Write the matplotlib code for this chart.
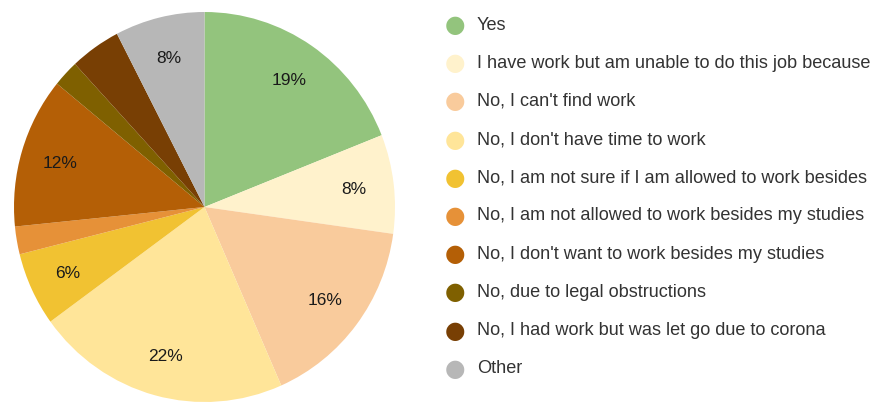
import matplotlib.pyplot as plt

# Survey answers, share of respondents in percent
labels = [
    "Yes",
    "I have work but am unable to do this job because",
    "No, I can't find work",
    "No, I don't have time to work",
    "No, I am not sure if I am allowed to work besides",
    "No, I am not allowed to work besides my studies",
    "No, I don't want to work besides my studies",
    "No, due to legal obstructions",
    "No, I had work but was let go due to corona",
    "Other",
]
shares = [19.0, 8.2, 16.2, 21.6, 6.1, 2.3, 12.5, 2.2, 4.3, 7.6]
colors = ["#93c47d", "#fff2cc", "#f9cb9c", "#ffe599", "#f1c232",
          "#e69138", "#b45f06", "#7f6000", "#783f04", "#b7b7b7"]

plt.rcParams['font.family'] = ['Liberation Sans', 'DejaVu Sans']

W, H = 875, 406
fig = plt.figure(figsize=(W / 100, H / 100), dpi=100)

# pie area in pixel coordinates (left, right, top, bottom)
x0, x1, y0, y1 = 14, 395, 13, 403
ax = fig.add_axes([x0 / W, 1 - y1 / H, (x1 - x0) / W, (y1 - y0) / H])

def fmt(p):
    return f"{p:.0f}%" if p >= 5 else ""

wedges, _, autotexts = ax.pie(
    shares, colors=colors, startangle=90, counterclock=False,
    autopct=fmt, pctdistance=0.79, radius=1,
    wedgeprops=dict(linewidth=0),
    textprops=dict(fontsize=12.5, color="#1a1a1a"),
)
ax.set_aspect('auto')
ax.set_xlim(-1, 1)
ax.set_ylim(-1, 1)
ax.axis('off')

# legend drawn as dots + text on the right
lx, tx = 455, 477
top, step = 25, 38.2
for i, (lab, col) in enumerate(zip(labels, colors)):
    y = top + i * step
    fig.text(lx / W, 1 - y / H, "\u25cf", color=col, fontsize=17,
             ha='center', va='center', family='DejaVu Sans')
    fig.text(tx / W, 1 - y / H, lab, fontsize=13.1, color="#333333",
             ha='left', va='center')

fig.savefig("out.png", dpi=100)
